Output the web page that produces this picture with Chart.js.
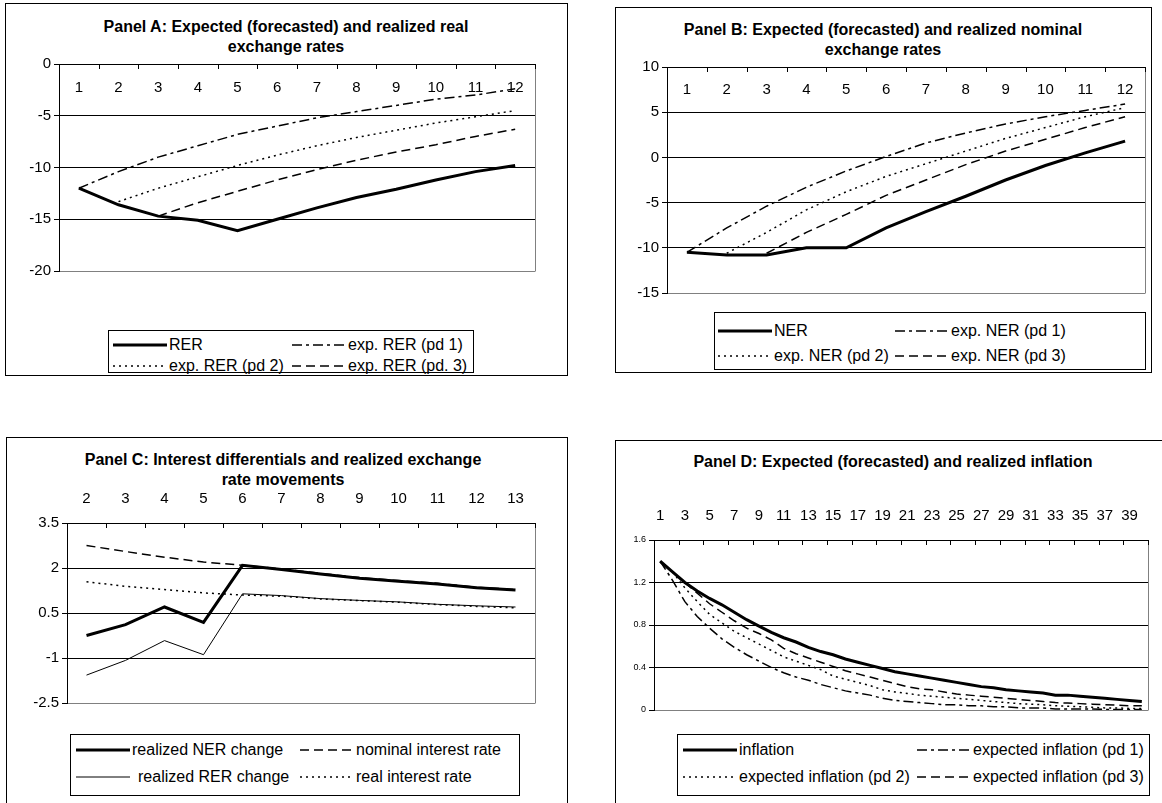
<!DOCTYPE html>
<html><head><meta charset="utf-8">
<script src="https://cdn.jsdelivr.net/npm/chart.js@4.4.1/dist/chart.umd.min.js"></script>
<style>
body{margin:0;background:#fff;width:1162px;height:803px;overflow:hidden;position:relative;font-family:Arial,"Liberation Sans",sans-serif;color:#000;}
.box{position:absolute;border:1px solid #000;box-sizing:border-box;}
.title{position:absolute;text-align:center;font-weight:bold;font-size:16px;line-height:19.5px;white-space:nowrap;}
canvas{position:absolute;}
.leg{position:absolute;border:1px solid #000;box-sizing:border-box;background:#fff;}
.li{position:absolute;font-size:16px;line-height:18px;white-space:nowrap;}
.li svg{position:absolute;left:0;top:4px;}
</style></head><body>
<script>
// ---------- Panel A ----------
const catsA = ['1','2','3','4','5','6','7','8','9','10','11','12'];
const rerA  = [-12.0,-13.6,-14.7,-15.1,-16.1,-15.0,-13.9,-12.9,-12.1,-11.2,-10.4,-9.8];
const exp1A = [-12.0,-10.4,-9.0,-7.9,-6.8,-6.0,-5.2,-4.6,-4.0,-3.4,-3.0,-2.4];
const exp2A = [null,-13.3,-12.0,-10.9,-9.8,-8.8,-7.9,-7.1,-6.4,-5.7,-5.1,-4.5];
const exp3A = [null,null,-14.7,-13.4,-12.3,-11.2,-10.2,-9.3,-8.5,-7.8,-7.0,-6.3];
// ---------- Panel B ----------
const catsB = ['1','2','3','4','5','6','7','8','9','10','11','12'];
const nerB  = [-10.5,-10.8,-10.8,-10.0,-10.0,-7.8,-6.0,-4.3,-2.5,-0.9,0.5,1.8];
const exp1B = [-10.5,-7.8,-5.4,-3.3,-1.5,0.1,1.6,2.7,3.7,4.5,5.2,5.9];
const exp2B = [null,-10.6,-8.3,-5.8,-3.8,-2.1,-0.7,0.7,2.1,3.3,4.5,5.5];
const exp3B = [null,null,-10.6,-8.3,-6.3,-4.2,-2.5,-0.8,0.7,2.0,3.3,4.5];
// ---------- Panel C ----------
const catsC = ['2','3','4','5','6','7','8','9','10','11','12','13'];
const nerChgC = [-0.25,0.11,0.70,0.19,2.09,1.95,1.80,1.66,1.56,1.47,1.34,1.27];
const nomRateC = [2.75,2.55,2.36,2.20,2.09,1.97,1.82,1.68,1.58,1.49,1.36,1.28];
const rerChgC = [-1.57,-1.08,-0.42,-0.89,1.14,1.08,0.98,0.92,0.87,0.79,0.74,0.70];
const realRateC = [1.54,1.39,1.28,1.17,1.10,1.06,0.97,0.91,0.86,0.78,0.72,0.67];
// ---------- Panel D ----------
const catsD = ['1','2','3','4','5','6','7','8','9','10','11','12','13','14','15','16','17','18','19','20',
               '21','22','23','24','25','26','27','28','29','30','31','32','33','34','35','36','37','38','39','40'];
const inflD = [1.40,1.30,1.20,1.12,1.05,0.99,0.92,0.85,0.79,0.73,0.68,0.64,0.59,0.55,0.52,0.48,0.45,0.42,0.39,0.36,
               0.34,0.32,0.30,0.28,0.26,0.24,0.22,0.21,0.19,0.18,0.17,0.16,0.14,0.14,0.13,0.12,0.11,0.10,0.09,0.08];
const exp1D = [1.40,1.22,1.02,0.88,0.77,0.67,0.59,0.52,0.46,0.40,0.35,0.31,0.28,0.24,0.21,0.18,0.16,0.14,0.11,0.09,
               0.08,0.07,0.06,0.05,0.05,0.04,0.04,0.03,0.03,0.02,0.02,0.02,0.01,0.01,0.01,0.01,0.005,0.005,0.005,0.005];
const exp2D = [null,1.30,1.15,1.02,0.90,0.82,0.74,0.68,0.62,0.56,0.50,0.46,0.42,0.38,0.32,0.29,0.26,0.23,0.19,0.17,
               0.155,0.14,0.13,0.12,0.11,0.10,0.09,0.08,0.07,0.06,0.055,0.05,0.04,0.035,0.03,0.025,0.02,0.02,0.015,0.015];
const exp3D = [null,null,1.20,1.10,1.00,0.92,0.84,0.77,0.72,0.66,0.58,0.53,0.49,0.45,0.41,0.37,0.34,0.31,0.28,0.25,
               0.22,0.20,0.19,0.17,0.15,0.14,0.13,0.12,0.11,0.10,0.09,0.08,0.07,0.065,0.06,0.055,0.05,0.045,0.04,0.04];

const FONT = 'Arial, "Liberation Sans", sans-serif';
const SOLID = [], DASHDOT = [10,4,3,4], DOT = [2,4], DASH = [9,5];

function el(tag, cls, style, html){
  const e = document.createElement(tag);
  if (cls) e.className = cls;
  Object.assign(e.style, style || {});
  if (html !== undefined) e.innerHTML = html;
  document.body.appendChild(e);
  return e;
}

const frame = {
  id: 'frame',
  afterDraw(chart, args, opts){
    const {ctx, chartArea: a, scales: {x}} = chart;
    ctx.save();
    ctx.strokeStyle = '#808080'; ctx.lineWidth = 1;
    ctx.beginPath();
    ctx.moveTo(Math.round(a.right) + 0.5, a.top);
    ctx.lineTo(Math.round(a.right) + 0.5, Math.round(a.bottom) + 0.5);
    ctx.stroke();
    const n = x.getLabels().length;
    ctx.strokeStyle = '#000';
    ctx.beginPath();
    for (let k = opts.every; k <= n; k += opts.every){
      const px = Math.round(x.getPixelForValue(k - 0.5)) + 0.5;
      ctx.moveTo(px, a.top); ctx.lineTo(px, a.top + 5);
    }
    ctx.stroke();
    ctx.restore();
  }
};

function fmt(v){ return String(Math.round(v * 10) / 10); }

function panel(p){
  el('div','box',{left:p.box[0]+'px',top:p.box[1]+'px',width:(p.box[2]-p.box[0])+'px',height:(p.box[3]-p.box[1])+'px'});
  el('div','title',{left:(p.tcx-270)+'px',width:'540px',top:p.ttop+'px'}, p.title);
  const PADT = 50, PADR = 12, PADB = 12, YW = 50;
  const [l,t,r,b] = p.plot;
  const cv = document.createElement('canvas');
  const W = (r - l) + YW + PADR, H = (b - t) + PADT + PADB;
  cv.width = W; cv.height = H;
  cv.style.left = (l - YW) + 'px'; cv.style.top = (t - PADT) + 'px';
  cv.style.width = W + 'px'; cv.style.height = H + 'px';
  document.body.appendChild(cv);
  new Chart(cv, {
    type: 'line',
    data: {
      labels: p.labels,
      datasets: p.series.map(s => ({
        label: s.label, data: s.data, borderColor: '#000', borderWidth: s.w,
        borderDash: s.dash, pointRadius: 0, tension: 0, fill: false, spanGaps: false
      }))
    },
    options: {
      responsive: false, animation: false, devicePixelRatio: 1,
      layout: {padding: {left: 0, top: PADT, right: PADR, bottom: PADB}},
      plugins: {legend: {display: false}, title: {display: false}, tooltip: {enabled: false}, frame: {every: p.every}},
      scales: {
        x: {
          type: 'category', offset: true, position: {y: p.ymax},
          grid: {display: false},
          border: {display: true, color: '#000', width: 1},
          ticks: {
            autoSkip: false, maxRotation: 0, minRotation: 0, color: '#000',
            font: {family: FONT, size: 15}, padding: p.xpad,
            callback: function(v, i){ return (i % p.every === 0) ? this.getLabelForValue(v) : ''; }
          }
        },
        y: {
          min: p.ymin, max: p.ymax,
          afterFit: s => { s.width = YW; },
          border: {display: true, color: '#000', width: 1},
          grid: {
            color: c => (c.tick && c.tick.value === p.ymin) ? '#808080' : '#000',
            tickColor: '#000', tickLength: 5, lineWidth: 1
          },
          ticks: {stepSize: p.step, color: '#000', padding: 3, font: {family: FONT, size: p.yfont}, callback: fmt}
        }
      }
    },
    plugins: [frame]
  });
  const L = p.legend;
  el('div','leg',{left:L.box[0]+'px',top:L.box[1]+'px',width:(L.box[2]-L.box[0])+'px',height:(L.box[3]-L.box[1])+'px'});
  L.items.forEach((it, i) => {
    const s = p.series[it.s];
    const d = el('div','li',{left:it.x+'px',top:(it.y-9)+'px'});
    const sw = it.sw || 54;
    d.innerHTML = '<svg width="'+sw+'" height="10"><line x1="0" y1="5" x2="'+sw+'" y2="5" stroke="#000" stroke-width="'+s.w+'"'+
      (s.dash.length ? ' stroke-dasharray="'+s.dash.join(',')+'"' : '')+'/></svg><span style="margin-left:'+(sw+(it.gap||2))+'px">'+s.label+'</span>';
  });
}

panel({
  box:[5,3,568,376], tcx:286, ttop:17,
  title:'Panel A: Expected (forecasted) and realized real<br>exchange rates',
  plot:[59,64,535,271], ymin:-20, ymax:0, step:5, yfont:15, xpad:7, every:1,
  labels: catsA,
  series:[
    {label:'RER', data: rerA, w:3, dash:SOLID},
    {label:'exp. RER (pd 1)', data: exp1A, w:1.5, dash:DASHDOT},
    {label:'exp. RER (pd 2)', data: exp2A, w:1.5, dash:DOT},
    {label:'exp. RER (pd. 3)', data: exp3A, w:1.5, dash:DASH}
  ],
  legend:{box:[108,330,474,373], items:[
    {s:0,x:113,y:345},{s:1,x:292,y:345},{s:2,x:113,y:366},{s:3,x:292,y:366}]}
});

panel({
  box:[615,7,1152,373], tcx:883, ttop:20,
  title:'Panel B: Expected (forecasted) and realized nominal<br>exchange rates',
  plot:[667,67,1145,293], ymin:-15, ymax:10, step:5, yfont:15, xpad:6, every:1,
  labels: catsB,
  series:[
    {label:'NER', data: nerB, w:3, dash:SOLID},
    {label:'exp. NER (pd 1)', data: exp1B, w:1.5, dash:DASHDOT},
    {label:'exp. NER (pd 2)', data: exp2B, w:1.5, dash:DOT},
    {label:'exp. NER (pd 3)', data: exp3B, w:1.5, dash:DASH}
  ],
  legend:{box:[714,312,1146,370], items:[
    {s:0,x:718,y:331},{s:1,x:895,y:331},{s:2,x:718,y:356},{s:3,x:895,y:356}]}
});

panel({
  box:[6,437,568,830], tcx:283, ttop:450,
  title:'Panel C: Interest differentials and realized exchange<br>rate movements',
  plot:[67,523,535,703], ymin:-2.5, ymax:3.5, step:1.5, yfont:15, xpad:-41, every:1,
  labels: catsC,
  series:[
    {label:'realized NER change', data: nerChgC, w:3, dash:SOLID},
    {label:'nominal interest rate', data: nomRateC, w:1.5, dash:DASH},
    {label:'realized RER change', data: rerChgC, w:1, dash:SOLID},
    {label:'real interest rate', data: realRateC, w:1.5, dash:DOT}
  ],
  legend:{box:[70,734,520,796], items:[
    {s:0,x:76,y:750},{s:1,x:300,y:750},{s:2,x:76,y:777,gap:8},{s:3,x:300,y:777}]}
});

panel({
  box:[615,440,1175,830], tcx:893, ttop:452,
  title:'Panel D: Expected (forecasted) and realized inflation',
  plot:[654,540,1148,710], ymin:0, ymax:1.6, step:0.4, yfont:9, xpad:-41, every:2,
  labels: catsD,
  series:[
    {label:'inflation', data: inflD, w:3, dash:SOLID},
    {label:'expected inflation (pd 1)', data: exp1D, w:1.5, dash:DASHDOT},
    {label:'expected inflation (pd 2)', data: exp2D, w:1.5, dash:DOT},
    {label:'expected inflation (pd 3)', data: exp3D, w:1.5, dash:DASH}
  ],
  legend:{box:[677,734,1150,796], items:[
    {s:0,x:683,y:750},{s:1,x:917,y:750},{s:2,x:683,y:777},{s:3,x:917,y:777}]}
});
</script>
</body></html>
